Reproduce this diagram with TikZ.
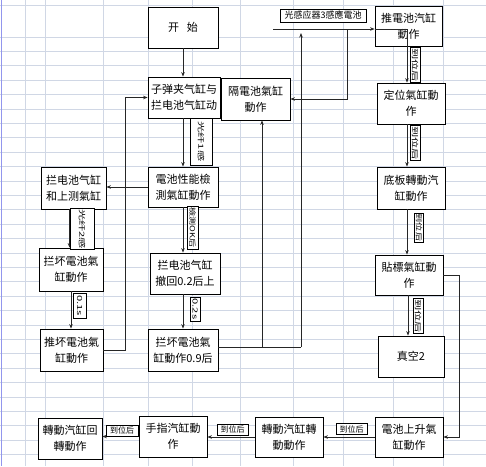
\documentclass[tikz,border=0pt]{standalone}
\usepackage{graphicx}
\usepackage{fontspec}
\setmainfont{Noto Sans CJK SC}
\usetikzlibrary{arrows.meta}

\definecolor{gridcol}{HTML}{D0D7E5}
\newcommand{\widetag}[1]{\scalebox{1.6}[1]{#1}}

\tikzset{
	boxsize/.style 2 args={minimum width=#1pt, minimum height=#2pt},
	stepbox/.style={draw=black, line width=0.8pt, fill=white, align=center, inner sep=1pt,
		font=\fontsize{11}{16}\selectfont},
	tag/.style={draw=black, line width=0.6pt, fill=white, inner sep=0.8pt,
		font=\fontsize{8}{8}\selectfont},
	vtag/.style={tag, rotate=-90, inner sep=0.5pt, font=\fontsize{7}{7}\selectfont},
	flow/.style={draw=black!85, line width=0.8pt},
	arrow/.style={flow, -{Stealth[length=4.5pt, width=3.5pt]}},
}

\begin{document}
\begin{tikzpicture}[x=1pt, y=-1pt]
		\useasboundingbox (0,0) rectangle (486,466);
		
		% sheet grid
		\fill[white] (0,0) rectangle (486,466);
		\foreach \gx in {25,45,103,148,192,240,293,343,393,443}
			\draw[gridcol, line width=0.8pt] (\gx,0) -- (\gx,466);
		\foreach \gy in {5,37,51.4,...,466}
			\draw[gridcol, line width=0.8pt] (0,\gy) -- (486,\gy);
		\draw[gridcol!70!blue, line width=1.5pt] (1.5,0) -- (1.5,466); % left edge
		
		% middle column
		\node[stepbox, boxsize={70}{41}] (start) at (183,27.5) {开\hspace{0.7em}始};
		\node[stepbox, boxsize={72}{41}] (clamp) at (184,97.5) {子弹夹气缸与\\拦电池气缸动};
		\node[stepbox, boxsize={69}{42}] (sep) at (255.5,99) {隔電池氣缸\\動作};
		\node[stepbox, boxsize={70}{40}] (test) at (183,187) {電池性能檢\\測氣缸動作};
		\node[stepbox, boxsize={70}{41}] (retract) at (185,273.5) {拦电池气缸\\撤回0.2后上};
		\node[stepbox, boxsize={70}{42}] (stopbad2) at (183,350) {拦坏電池氣\\缸動作0.9后};
		
		% left column
		\node[stepbox, boxsize={65}{42}] (stopup) at (73.5,188) {拦电池气缸\\和上测氣缸};
		\node[stepbox, boxsize={64}{43}] (stopbad) at (71,269.5) {拦坏電池氣\\缸動作};
		\node[stepbox, boxsize={63}{42}] (pushbad) at (71.5,350) {推坏電池氣\\缸動作};
		
		% right column
		\node[stepbox, boxsize={67}{40}] (push) at (408.5,26) {推電池汽缸\\動作};
		\node[stepbox, boxsize={68}{41}] (locate) at (411,103.5) {定位氣缸動\\作};
		\node[stepbox, boxsize={68}{42}] (base) at (411,188) {底板轉動汽\\缸動作};
		\node[stepbox, boxsize={68}{40}] (label) at (409,275) {貼標氣缸動\\作};
		\node[stepbox, boxsize={66}{41}] (vac) at (411,356.5) {真空2};
		
		% bottom row
		\node[stepbox, boxsize={68}{40}] (lift) at (409,437) {電池上升氣\\缸動作};
		\node[stepbox, boxsize={68}{40}] (rot) at (289,437) {轉動汽缸轉\\動動作};
		\node[stepbox, boxsize={68}{41}] (finger) at (173,436.5) {手指汽缸動\\作};
		\node[stepbox, boxsize={64}{41}] (back) at (70,438.5) {轉動汽缸回\\轉動作};
		
		% joints
		\coordinate (loopL) at (125,350);
		\coordinate (j1) at (262,347);
		\coordinate (j2) at (301,347);
		\coordinate (upend) at (301,33);
		\coordinate (topL) at (273,29);
		\coordinate (drop) at (347,29);
		\coordinate (pc) at (407,29);
		\coordinate (loopR) at (459,275);
		
		% middle and left flow
		\draw[arrow] (start.south) -- (start.south |- clamp.north);
		\draw[arrow] (clamp.south -| test.north) -- (test.north);
		\draw[arrow] (test.south) -- (test.south |- retract.north);
		\draw[arrow] (retract.south -| stopbad2.north) -- (stopbad2.north);
		\draw[arrow] (test.west) -- (test.west -| stopup.east);
		\draw[arrow] ([xshift=-4pt]stopup.south) -- ([xshift=-4pt]stopup.south |- stopbad.north);
		\draw[arrow] (stopbad.south) -- (stopbad.south |- pushbad.north);
		\draw[arrow] (pushbad.east) -- (loopL) |- (clamp.west);
		\draw[flow] ([yshift=3pt]stopbad2.east) -- (j2);
		\draw[arrow] (j1) -- (j1 |- sep.south);
		\draw[arrow] (j2) -- (upend);
		
		% top line into the right column
		\draw[arrow] (topL) -- (topL -| push.west);
		\draw[arrow] (drop) |- (sep.east);
		\draw[arrow] (topL -| push.west) -| (pc |- locate.north);
		
		% right column and bottom row
		\draw[arrow] (locate.south -| pc) -- (base.north -| pc);
		\draw[arrow] (base.south -| pc) -- (label.north -| pc);
		\draw[arrow] ([xshift=1pt]label.south -| pc) -- ([xshift=1pt]vac.north -| pc);
		\draw[arrow] (label.east) -- (loopR) |- (lift.east);
		\draw[arrow] (lift.west) -- (rot.east);
		\draw[arrow] (rot.west) -- (rot.west -| finger.east);
		\draw[arrow] (finger.west) -- (finger.west -| back.east);
		
		% tags on the connectors
		\node[tag, boxsize={86}{13}, font=\fontsize{9}{9}\selectfont] (tsensor) at (323,15.5) {光感应器3感應電池};
		\node[vtag, boxsize={47}{22}] (t1) at (201,141.5) {\widetag{光纤1感}};
		\node[vtag, boxsize={43}{11}] (t2) at (192.5,227.5) {\scalebox{1.3}[1]{檢測OK后}};
		\node[vtag, boxsize={38}{24}] (t3) at (82,229) {\widetag{光纤2感}};
		\node[vtag, boxsize={25}{13}] (t4) at (79.5,305.5) {\widetag{0.1s}};
		\node[vtag, boxsize={24}{10}] (t5) at (195,309) {\widetag{0.2s}};
		\node[vtag, boxsize={32}{10}] (r1) at (415,65) {\widetag{到位后}};
		\node[vtag, boxsize={30}{10}] (r2) at (415,143) {\widetag{到位后}};
		\node[vtag, boxsize={29}{9}] (r3) at (419,227.5) {\scalebox{1.3}[1]{到位后}};
		\node[vtag, boxsize={32}{10}] (r4) at (418,316) {\widetag{到位后}};
		\node[tag, boxsize={31}{11}] (h1) at (351.5,429) {到位后};
		\node[tag, boxsize={31}{11}] (h2) at (232.5,429.5) {到位后};
		\node[tag, boxsize={32}{11}] (h3) at (122,430.5) {到位后};
	\end{tikzpicture}
\end{document}
